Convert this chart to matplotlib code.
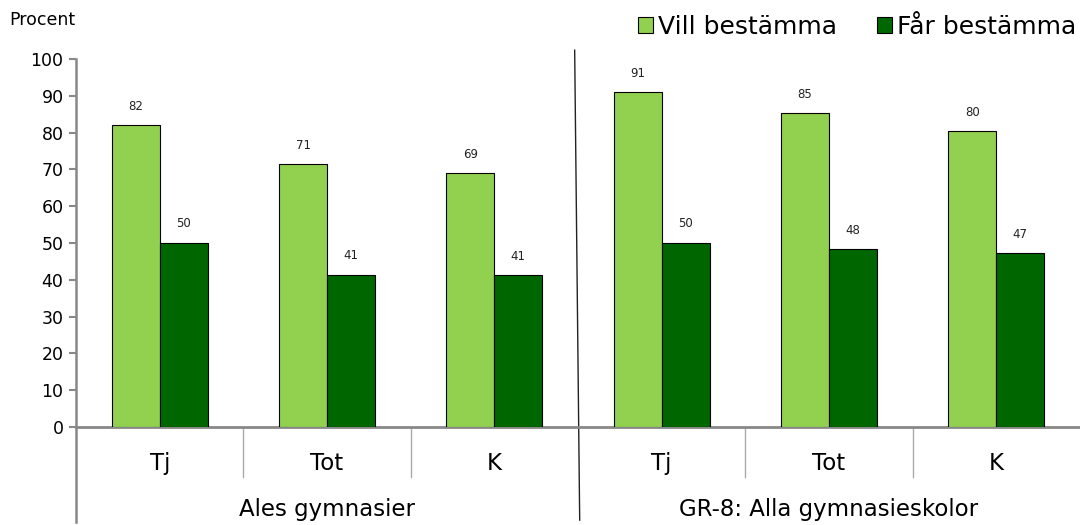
import matplotlib.pyplot as plt
import numpy as np
from matplotlib.patches import Patch

categories = ["Tj", "Tot", "K", "Tj", "Tot", "K"]
groups = ["Ales gymnasier", "GR-8: Alla gymnasieskolor"]
vill = [82, 71.4, 69, 91, 85.2, 80.4]
far = [50, 41.4, 41.3, 50, 48.3, 47.2]
series_names = ["Vill bestämma", "Får bestämma"]
ylabel = "Procent"

light = "#92D050"
dark = "#006600"
axis_gray = "#888888"

plt.rcParams['font.family'] = ['DejaVu Sans']

fig = plt.figure(figsize=(10.8, 5.25), dpi=100)
ax = fig.add_axes([0.0704, 0.1867, 0.9296, 0.7009])

x = np.arange(len(categories))
w = 0.287
ax.bar(x - w/2, vill, w, color=light, edgecolor="black", linewidth=0.8, zorder=3)
ax.bar(x + w/2, far, w, color=dark, edgecolor="black", linewidth=0.8, zorder=3)

for xi, v in zip(x, vill):
	ax.annotate("%.0f" % v, (xi - w/2, v), xytext=(0, 9), textcoords="offset points",
		ha="center", va="bottom", fontsize=8.5, color="#222222")
for xi, v in zip(x, far):
	ax.annotate("%.0f" % v, (xi + w/2, v), xytext=(0, 9), textcoords="offset points",
		ha="center", va="bottom", fontsize=8.5, color="#222222")

ax.set_xlim(-0.5, len(categories) - 0.5)
ax.set_ylim(0, 100)
ax.set_yticks(np.arange(0, 101, 10))
ax.tick_params(axis="y", labelsize=12.5, length=5, width=1.5, color=axis_gray, pad=4)
ax.set_xticks([])

for s in ["top", "right"]:
	ax.spines[s].set_visible(False)
ax.spines["left"].set_color(axis_gray)
ax.spines["left"].set_linewidth(1.8)
ax.spines["bottom"].set_color(axis_gray)
ax.spines["bottom"].set_linewidth(2)

tr = ax.get_xaxis_transform()
# category separators
for b in [0.5, 1.5, 3.5, 4.5]:
	ax.plot([b, b], [0, -0.135], transform=tr, color="#aaaaaa", lw=1, clip_on=False)
# left axis extension
ax.plot([-0.5, -0.5], [0, -0.258], transform=tr, color=axis_gray, lw=1.8, clip_on=False)
# group divider (slightly slanted)
ax.plot([2.48, 2.51], [1.024, -0.253], transform=tr, color="#222222", lw=1, clip_on=False)

for xi, c in zip(x, categories):
	ax.text(xi, -0.098, c, transform=tr, ha="center", va="center", fontsize=16.5)
for gi, g in enumerate(groups):
	ax.text(1 + 3*gi, -0.225, g, transform=tr, ha="center", va="center", fontsize=16.5)

fig.text(0.009, 0.962, ylabel, ha="left", va="center", fontsize=12.5)

handles = [Patch(facecolor=light, edgecolor="black", linewidth=0.8),
	Patch(facecolor=dark, edgecolor="black", linewidth=0.8)]
fig.legend(handles, series_names, loc="upper right", bbox_to_anchor=(1.017, 1.015), ncol=2,
	frameon=False, fontsize=18, handlelength=0.6, handleheight=0.6, handletextpad=0.2,
	columnspacing=1.6)

fig.savefig("out.png", dpi=100)
